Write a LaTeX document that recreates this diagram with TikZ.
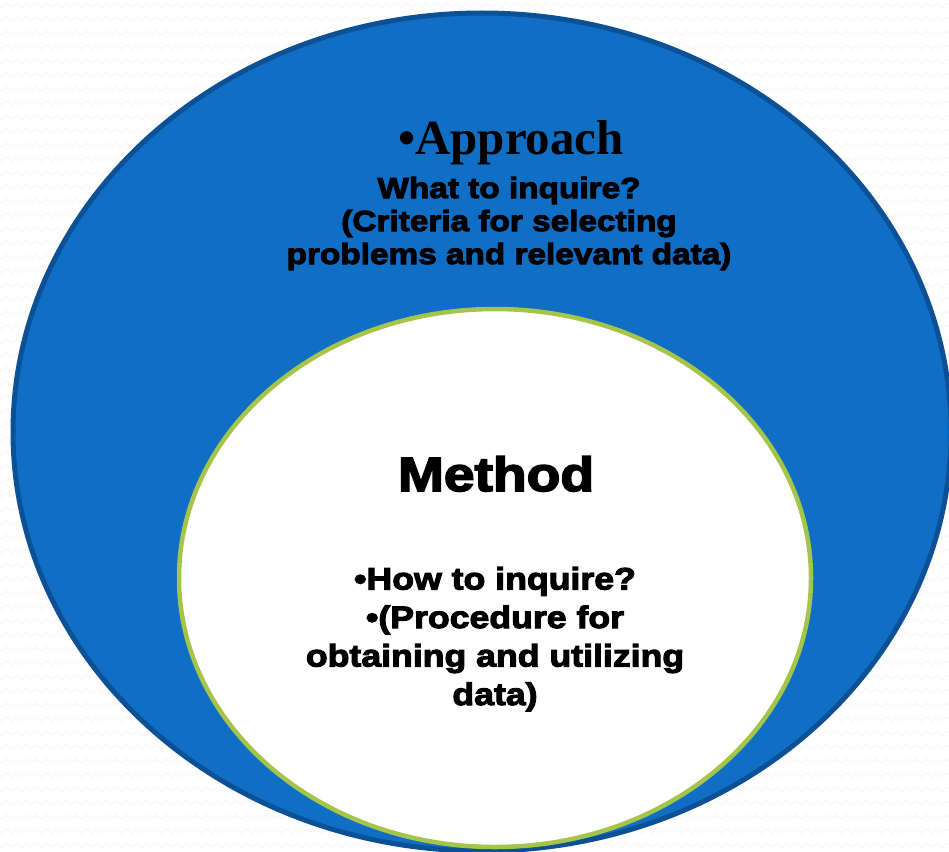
\documentclass[tikz,border=0pt]{standalone}
\usepackage{fontspec}
\usetikzlibrary{decorations}
\usetikzlibrary{decorations.pathmorphing}

\newfontfamily\headserif{Liberation Serif}
\newfontfamily\heavysans[FakeBold=3.5,FakeStretch=1.15]{Liberation Sans}

\definecolor{outerblue}{RGB}{16,110,196}
\definecolor{outerrim}{RGB}{12,80,150}
\definecolor{innergreen}{RGB}{164,196,74}

\tikzset{
  headtext/.style={anchor=base, font=\headserif\bfseries\fontsize{49}{52}\selectfont},
  subtext/.style={anchor=base, align=center, font=\heavysans\bfseries\fontsize{29}{33}\selectfont},
  bigtext/.style={anchor=base, font=\heavysans\bfseries\fontsize{48}{54}\selectfont},
  bodytext/.style={anchor=base, align=center, font=\heavysans\bfseries\fontsize{31}{38.5}\selectfont},
}

\begin{document}
\begin{tikzpicture}[x=1pt,y=-1pt]
  \useasboundingbox (0,0) rectangle (949,851);
  \clip (0,0) rectangle (949,851);

  % Backdrop
  \fill[white] (0,0) rectangle (949,851);
  \foreach \y in {5,19,...,851}
    \draw[gray!6, line width=1pt, decorate,
          decoration={zigzag, segment length=10pt, amplitude=2pt}] (-6,\y) -- (960,\y);

  % Outer ellipse
  \fill[outerblue, draw=outerrim, line width=5pt] (482,432) ellipse (469 and 419);

  % Inner ellipse
  \fill[white, draw=innergreen, line width=4.5pt] (495,578) ellipse (316 and 269);

  % Approach
  \node[headtext] (approach) at (511,154) {•Approach};
  \node[subtext] (approachtxt) at (509,264) {What to inquire?\\(Criteria for selecting\\problems and relevant data)};

  % Method
  \node[bigtext] (method) at (496,491) {Method};
  \node[bodytext] (methodtxt) at (495,705) {•How to inquire?\\•(Procedure for\\obtaining and utilizing\\data)};
\end{tikzpicture}
\end{document}
